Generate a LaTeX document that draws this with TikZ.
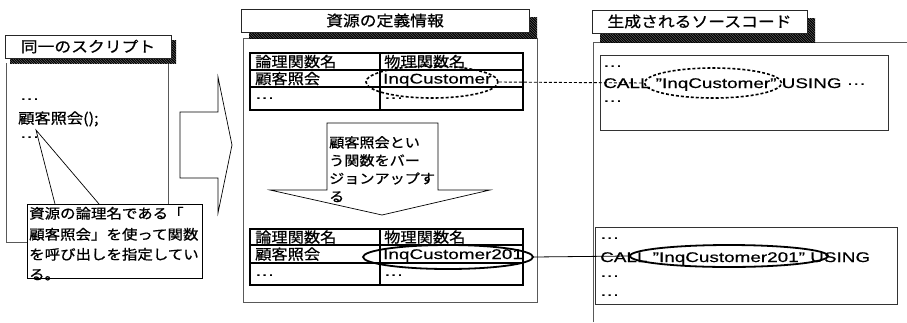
\documentclass[tikz,border=0pt]{standalone}
\usepackage{fontspec}
\setmainfont[FakeStretch=1.35,FakeBold=0.4]{Liberation Sans}
\newfontfamily\jp[FakeStretch=1.12,FakeBold=0.8]{Noto Sans CJK JP}
\usetikzlibrary{shapes.geometric}
\newcommand\myhatchrect[4]{%
  \fill[black!40] (#1,#2) rectangle (#3,#4);
  \begin{scope}
    \clip (#1,#2) rectangle (#3,#4);
    \foreach \hx in {-30,-27.5,...,300}
      \draw[line width=1.1pt,black] (#1+\hx,#2) -- ++(30,30);
  \end{scope}}
\begin{document}
\begin{tikzpicture}[x=1pt,y=-1pt,
  panel/.style={draw=black!65,line width=0.6pt},
  titlebox/.style={draw=black!85,fill=white,line width=0.6pt,inner sep=0pt,font=\jp\fontsize{15}{18}\selectfont},
  jt/.style={font=\jp\fontsize{14.5}{18}\selectfont,inner sep=0pt,anchor=west,text height=12.8pt,text depth=1.7pt},
  jsmall/.style={jt,font=\jp\fontsize{13.8}{18}\selectfont},
  lt/.style={font=\fontsize{14}{18}\selectfont,inner sep=0pt,anchor=west,text height=10pt,text depth=0pt},
  tbl/.style={draw=black,line width=1.3pt},
  codebox/.style={draw=black!80,line width=0.7pt,inner sep=0pt},
  oval/.style={ellipse,draw=black,inner sep=0pt},
  bigarrow/.style={draw=black,fill=white,line width=0.7pt}
]
\useasboundingbox (0,0) rectangle (907,322);

% ---------- left panel ----------
\draw[panel] (6,63) -- (6,242) -- (27,242);
\draw[panel] (168,63) -- (168,204);
\myhatchrect{10}{40}{176}{63}
\node[titlebox,minimum width=166pt,minimum height=23pt] (t1) at (88,46.5) {同一のスクリプト};
\node[lt] (l1) at (20,98) {···};
\node[jt] (l2) at (18,118) {顧客照会();};
\node[lt] (l3) at (20,136) {···};
\coordinate (tip) at (36,130);
\coordinate (c1) at (55,204);
\coordinate (c2) at (99,204);
\draw[line width=0.7pt] (c1) -- (tip) -- (c2);
\node[draw=black,fill=white,line width=0.8pt,minimum width=175pt,minimum height=74pt,anchor=north west,inner sep=0pt] (co) at (27,204) {};
\node[jsmall] (cl1) at (29,213) {資源の論理名である「};
\node[jsmall] (cl2) at (29,234) {顧客照会」を使って関数};
\node[jsmall] (cl3) at (29,254) {を呼び出しを指定してい};
\node[jsmall] (cl4) at (29,274) {る。};
\draw[black,line width=0.8pt] (co.south west) -- (co.south east);

% ---------- big arrow ----------
\draw[bigarrow] (180,112) -- (218,112) -- (218,77) -- (232,145) -- (218,213) -- (218,178) -- (180,178) -- cycle;

% ---------- middle panel ----------
\draw[panel] (243,38) rectangle (537,302);
\myhatchrect{249}{17}{537}{38}
\node[titlebox,minimum width=288pt,minimum height=23pt] (t2) at (385,20.5) {資源の定義情報};

% table 1
\draw[tbl] (250,53) rectangle (523,110);
\draw[tbl] (250,70) -- (523,70) (250,87) -- (523,87) (380,53) -- (380,110);
\node[jt] (a11) at (255,61.5) {論理関数名};
\node[jt] (a12) at (384,61.5) {物理関数名};
\node[jt] (a21) at (255,78.5) {顧客照会};
\node[lt] (a22) at (383,78.5) {InqCustomer};
\node[lt] (a31) at (255,97) {···};
\node[lt] (a32) at (384,97) {···};
\node[oval,densely dashed,line width=1.6pt,minimum width=132pt,minimum height=32pt] (e1) at (432,82) {};

% down arrow callout
\draw[bigarrow] (327,123) -- (438,123) -- (438,190) -- (490,190) -- (382,215) -- (270,190) -- (327,190) -- cycle;
\node[jt,font=\jp\fontsize{13.5}{18}\selectfont] (m1) at (329,142) {顧客照会とい};
\node[jt,font=\jp\fontsize{13.5}{18}\selectfont] (m2) at (329,160) {う関数をバー};
\node[jt,font=\jp\fontsize{13.5}{18}\selectfont] (m3) at (329,178) {ジョンアップす};
\node[jt,font=\jp\fontsize{13.5}{18}\selectfont] (m4) at (329,196) {る};

% table 2
\draw[tbl] (250,229) rectangle (523,285);
\draw[tbl] (250,245) -- (523,245) (250,263) -- (523,263) (380,229) -- (380,285);
\node[jt] (b11) at (255,237) {論理関数名};
\node[jt] (b12) at (384,237) {物理関数名};
\node[jt] (b21) at (255,254) {顧客照会};
\node[lt] (b22) at (383,254) {InqCustomer201};
\node[lt] (b31) at (255,274) {···};
\node[lt] (b32) at (384,274) {···};
\node[oval,line width=1.8pt,minimum width=170pt,minimum height=24pt] (e2) at (448,257) {};

% ---------- right panel ----------
\draw[panel] (593,322) -- (593,42) -- (907,42);
\myhatchrect{600}{18}{815}{42}
\node[titlebox,minimum width=215pt,minimum height=23pt] (t3) at (699.5,21.5) {生成されるソースコード};

\node[codebox,minimum width=288pt,minimum height=75pt] (cb1) at (744,92.5) {};
\node[lt] (s1) at (603,65) {···};
\node[lt] (s2) at (603,83) {CALL "InqCustomer" USING ···};
\node[lt] (s3) at (603,100) {···};
\node[oval,densely dashed,line width=1.6pt,minimum width=137pt,minimum height=30pt] (e3) at (713,83) {};

\node[codebox,minimum width=302pt,minimum height=77pt] (cb2) at (746,265.5) {};
\node[lt] (r1) at (600,237) {···};
\node[lt] (r2) at (600,257) {CALL "InqCustomer201" USING};
\node[lt] (r3) at (600,275) {···};
\node[lt] (r4) at (600,294) {···};
\node[oval,line width=1.8pt,minimum width=198pt,minimum height=22pt] (e4) at (729,256) {};

% ---------- connectors ----------
\draw[densely dashed,line width=0.9pt] (e1.east) -- (e3.west);
\draw[line width=0.8pt] (e2.east) -- (e4.west);
\end{tikzpicture}
\end{document}
